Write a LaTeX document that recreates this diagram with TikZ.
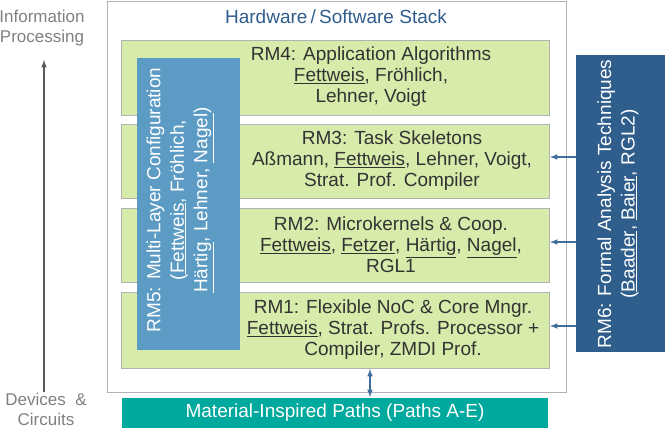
\documentclass[tikz,border=0pt]{standalone}
\usepackage{fontspec}
\setmainfont{Liberation Sans}
\newcommand{\ul}[1]{\underline{#1}}
\begin{document}
\begin{tikzpicture}[x=1pt,y=-1pt,
  txt/.style={text=black!80,font=\fontsize{19}{21}\selectfont,align=center}]
\useasboundingbox (0,0) rectangle (665,429);
\definecolor{gfill}{HTML}{D7EBAA}
\definecolor{bl}{HTML}{5C9BC4}
\definecolor{dbl}{HTML}{2F5D8C}
\definecolor{teal2}{HTML}{00A99D}
\definecolor{arrc}{HTML}{3F6D9E}
\draw[gray!60,line width=1pt] (107,1) rectangle (566,392);
\node[txt,text=dbl] (hw) at (336,17) {Hardware\,/\,Software Stack};
\foreach \n/\a/\b in {rm4/40/115,rm3/124/198,rm2/208/282,rm1/292/368}{
  \draw[draw=gray!60,fill=gfill] (121,\a) rectangle (549,\b);
}
\node[txt] (t4) at (371,77) {RM4: Application Algorithms\\\ul{Fettweis}, Fröhlich,\\Lehner, Voigt};
\node[txt] (t3) at (392,161) {RM3: Task Skeletons\\Aßmann, \ul{Fettweis}, Lehner, Voigt,\\Strat. Prof. Compiler};
\node[txt] (t2) at (391,245) {RM2: Microkernels \& Coop.\\\ul{Fettweis}, \ul{Fetzer}, \ul{Härtig}, \ul{Nagel},\\RGL1};
\node[txt] (t1) at (393,330) {RM1: Flexible NoC \& Core Mngr.\\\ul{Fettweis}, Strat. Profs. Processor +\\Compiler, ZMDI Prof.};
\fill[bl] (137,58) rectangle (240,350);
\node[txt,text=white,rotate=90,font=\fontsize{19}{23.5}\selectfont] (rm5) at (180,200) {RM5: Multi-Layer Configuration\\(\ul{Fettweis}, Fröhlich,\\\ul{Härtig}, Lehner, \ul{Nagel})};
\fill[dbl] (576,55) rectangle (665,352);
\node[txt,text=white,rotate=90,font=\fontsize{19}{23.5}\selectfont] (rm6) at (618,204) {RM6: Formal Analysis Techniques\\(\ul{Baader}, \ul{Baier}, RGL2)};
\coordinate (r3) at (576,157);\coordinate (r2) at (576,242);\coordinate (r1) at (576,326);
\coordinate (e3) at (550,157);\coordinate (e2) at (550,242);\coordinate (e1) at (550,326);
\foreach \i in {1,2,3}{\draw[arrc,line width=1.5pt,-{latex[scale=1.3]}] (r\i) -- (e\i);}
\fill[teal2] (122,398) rectangle (548,428);
\node[txt,text=white] (mp) at (335,413) {Material-Inspired Paths (Paths A-E)};
\coordinate (d1) at (370,369);\coordinate (d2) at (370,397);
\draw[arrc,line width=1.5pt,{latex[scale=1.3]}-{latex[scale=1.3]}] (d1) -- (d2);
\node[txt,text=gray,font=\fontsize{17}{20}\selectfont] (ip) at (42,28) {Information\\Processing};
\node[txt,text=gray,font=\fontsize{17}{20}\selectfont] (dc) at (46,409) {Devices \ \&\\Circuits};
\coordinate (a1) at (44,392);\coordinate (a2) at (44,60);
\draw[black!65,line width=1.5pt,-{latex[scale=1.3]}] (a1) -- (a2);
\end{tikzpicture}
\end{document}
